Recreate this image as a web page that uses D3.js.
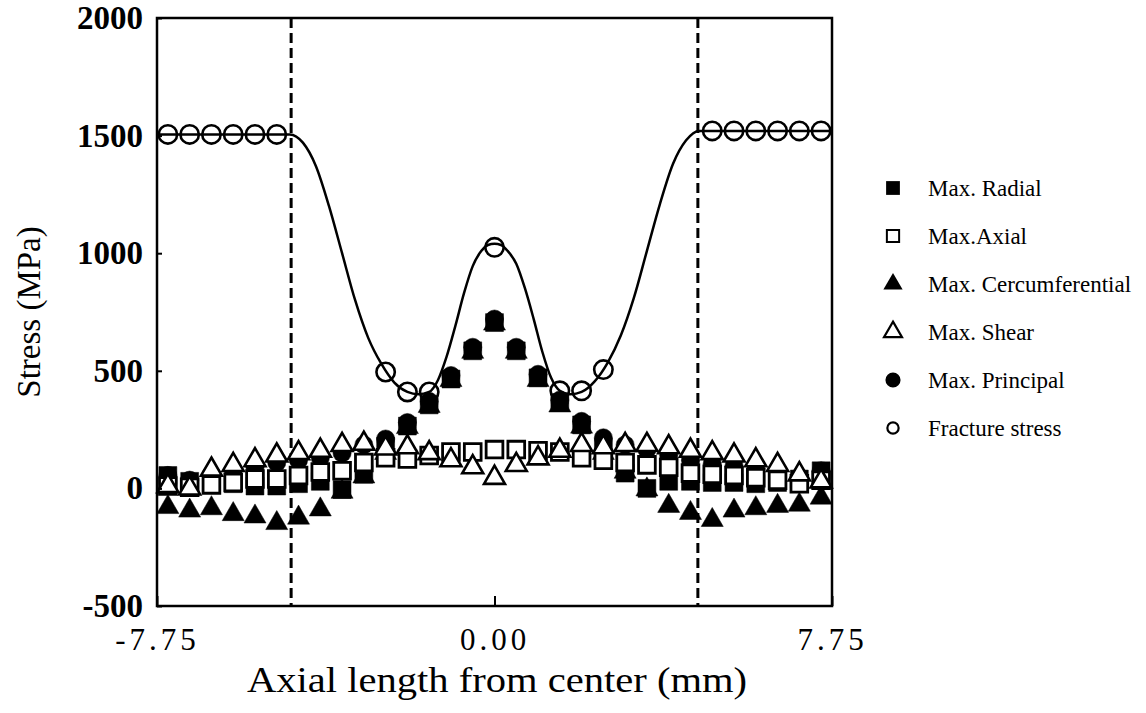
<!DOCTYPE html>
<html>
<head>
<meta charset="utf-8">
<script src="https://cdn.jsdelivr.net/npm/d3@7"></script>
<style>
  html, body { margin: 0; padding: 0; background: #fff; }
  svg { display: block; }
</style>
</head>
<body>
<svg id="chart" width="1146" height="713"></svg>
<script>
// ---------------- data ----------------
const positions = [-7.5,-7.0,-6.5,-6.0,-5.5,-5.0,-4.5,-4.0,-3.5,-3.0,-2.5,-2.0,-1.5,-1.0,-0.5,0,0.5,1.0,1.5,2.0,2.5,3.0,3.5,4.0,4.5,5.0,5.5,6.0,6.5,7.0,7.5];
const maxRadial = [55,30,25,20,10,10,20,30,-5,60,180,265,355,465,585,705,585,470,365,270,175,65,0,30,30,25,25,20,25,40,75];
const maxAxial = [10,5,15,25,40,40,55,70,75,110,130,125,140,155,155,165,165,160,155,130,120,110,100,90,65,60,55,45,35,20,35];
const maxCircumferential = [-80,-95,-85,-110,-120,-148,-125,-90,-15,50,150,260,350,460,580,700,580,460,352,262,150,70,-5,-75,-105,-135,-95,-85,-75,-70,-40];
const maxShear = [10,0,80,100,120,140,150,160,185,190,170,175,150,120,90,45,100,128,160,185,175,185,185,175,160,150,140,120,100,60,30];
const maxPrincipal = [55,35,60,75,90,110,120,130,150,185,210,280,370,480,600,720,600,485,375,285,215,185,165,140,120,105,95,85,70,45,75];

const fractureX = [-7.5,-7.0,-6.5,-6.0,-5.5,-5.0,-2.5,-2.0,-1.5,0,1.5,2.0,2.5,5.0,5.5,6.0,6.5,7.0,7.5];
const fractureY = [1505,1505,1505,1505,1505,1505,495,410,410,1025,415,415,505,1520,1520,1520,1520,1520,1520];

const curveX = [-7.75,-4.7,-4.4,-4.1,-3.8,-3.5,-3.2,-2.9,-2.6,-2.3,-2.0,-1.75,-1.5,-1.3,-1.1,-0.9,-0.7,-0.5,-0.3,-0.15,0,0.15,0.3,0.5,0.7,0.9,1.1,1.3,1.5,1.75,2.0,2.3,2.6,2.9,3.2,3.5,3.8,4.1,4.4,4.7,7.75];
const curveY = [1505,1505,1470,1370,1200,1000,800,640,530,450,410,400,410,460,560,690,830,945,1010,1035,1040,1035,1010,955,850,720,580,470,415,400,410,455,535,650,810,1010,1210,1380,1480,1520,1520];

const dashPositions = [-4.67, 4.67];

const xTickValues = [-7.75, 0, 7.75];
const xTickLabels = ["-7.75", "0.00", "7.75"];
const yTickValues = [-500, 0, 500, 1000, 1500, 2000];
const yTickLabels = ["-500", "0", "500", "1000", "1500", "2000"];

const legendLabels = ["Max. Radial", "Max.Axial", "Max. Cercumferential", "Max. Shear", "Max. Principal", "Fracture stress"];

// ---------------- drawing ----------------
const svg = d3.select("#chart");
const x = d3.scaleLinear().domain([-7.75, 7.75]).range([157, 832]);
const y = d3.scaleLinear().domain([-500, 2000]).range([606, 18]);

const SERIF = "'Liberation Serif', 'Times New Roman', serif";

// dashed vertical lines
svg.selectAll("line.dash").data(dashPositions).enter().append("line")
  .attr("class", "dash")
  .attr("x1", d => x(d)).attr("x2", d => x(d))
  .attr("y1", y(2000)).attr("y2", y(-500))
  .attr("stroke", "#000").attr("stroke-width", 3)
  .attr("stroke-dasharray", "10,5");

// fracture curve
const curvePts = curveX.map((v, i) => [v, curveY[i]]);
svg.append("path")
  .datum(curvePts)
  .attr("fill", "none").attr("stroke", "#000").attr("stroke-width", 2.5)
  .attr("d", d3.line().x(d => x(d[0])).y(d => y(d[1])).curve(d3.curveMonotoneX));

// symbols
const sq = d3.symbol().type(d3.symbolSquare);
const tri = d3.symbol().type(d3.symbolTriangle);
const circ = d3.symbol().type(d3.symbolCircle);

function drawSeries(vals, gen, size, fill, strokeW) {
  svg.append("g").selectAll("path").data(vals.map((v, i) => [positions[i], v])).enter().append("path")
    .attr("transform", d => `translate(${x(d[0])},${y(d[1])})`)
    .attr("d", gen.size(size)())
    .attr("fill", fill)
    .attr("stroke", "#000")
    .attr("stroke-width", strokeW);
}

drawSeries(maxCircumferential, tri, 210, "#000", 0.5);
drawSeries(maxRadial, sq, 320, "#000", 0.5);
drawSeries(maxPrincipal, circ, 260, "#000", 0.5);
drawSeries(maxAxial, sq, 280, "#fff", 2.8);
drawSeries(maxShear, tri, 190, "#fff", 2.6);

// fracture circles
svg.append("g").selectAll("circle").data(fractureX.map((v, i) => [v, fractureY[i]])).enter().append("circle")
  .attr("cx", d => x(d[0])).attr("cy", d => y(d[1])).attr("r", 9.2)
  .attr("fill", "none").attr("stroke", "#000").attr("stroke-width", 2.6);

// frame
svg.append("rect")
  .attr("x", x(-7.75)).attr("y", y(2000))
  .attr("width", x(7.75) - x(-7.75)).attr("height", y(-500) - y(2000))
  .attr("fill", "none").attr("stroke", "#000").attr("stroke-width", 2.5);

// axes
const yAxis = d3.axisLeft(y).tickValues(yTickValues)
  .tickFormat((d, i) => yTickLabels[i]).tickSize(-5).tickPadding(14);
const gy = svg.append("g").attr("transform", `translate(${x(-7.75)},0)`).call(yAxis);
gy.select(".domain").remove();
gy.selectAll(".tick line").attr("stroke", "#000").attr("stroke-width", 2);
gy.selectAll(".tick text")
  .attr("font-family", SERIF).attr("font-size", 33).attr("font-weight", "bold").attr("fill", "#000");

const xAxis = d3.axisBottom(x).tickValues(xTickValues)
  .tickFormat((d, i) => xTickLabels[i]).tickSize(-10).tickPadding(22);
const gx = svg.append("g").attr("transform", `translate(0,${y(-500)})`).call(xAxis);
gx.select(".domain").remove();
gx.selectAll(".tick line").attr("stroke", "#000").attr("stroke-width", 2);
gx.selectAll(".tick text")
  .attr("font-family", SERIF).attr("font-size", 31).attr("letter-spacing", 4).attr("fill", "#000");

// axis titles
svg.append("text")
  .attr("x", 497).attr("y", 692)
  .attr("text-anchor", "middle")
  .attr("font-family", SERIF).attr("font-size", 36)
  .attr("textLength", 500).attr("lengthAdjust", "spacingAndGlyphs")
  .text("Axial length from center (mm)");

svg.append("text")
  .attr("transform", `translate(40,${(y(2000) + y(-500)) / 2}) rotate(-90)`)
  .attr("text-anchor", "middle")
  .attr("font-family", SERIF).attr("font-size", 33)
  .text("Stress (MPa)");

// legend
const legend = svg.append("g");
const lgX = 893, lgTextX = 928, lgY0 = 188, lgDY = 48;
legendLabels.forEach((lab, i) => {
  const cy = lgY0 + i * lgDY;
  let p;
  if (i === 0) p = legend.append("path").attr("d", sq.size(190)()).attr("fill", "#000");
  if (i === 1) p = legend.append("path").attr("d", sq.size(150)()).attr("fill", "#fff").attr("stroke", "#000").attr("stroke-width", 2);
  if (i === 2) p = legend.append("path").attr("d", tri.size(160)()).attr("fill", "#000");
  if (i === 3) p = legend.append("path").attr("d", tri.size(140)()).attr("fill", "#fff").attr("stroke", "#000").attr("stroke-width", 2.2);
  if (i === 4) p = legend.append("path").attr("d", circ.size(180)()).attr("fill", "#000");
  if (i === 5) p = legend.append("path").attr("d", circ.size(100)()).attr("fill", "#fff").attr("stroke", "#000").attr("stroke-width", 2.2);
  p.attr("transform", `translate(${lgX},${cy})`);
  legend.append("text")
    .attr("x", lgTextX).attr("y", cy).attr("dy", "0.35em")
    .attr("font-family", SERIF).attr("font-size", 23).attr("fill", "#000")
    .text(lab);
});
</script>
</body>
</html>
